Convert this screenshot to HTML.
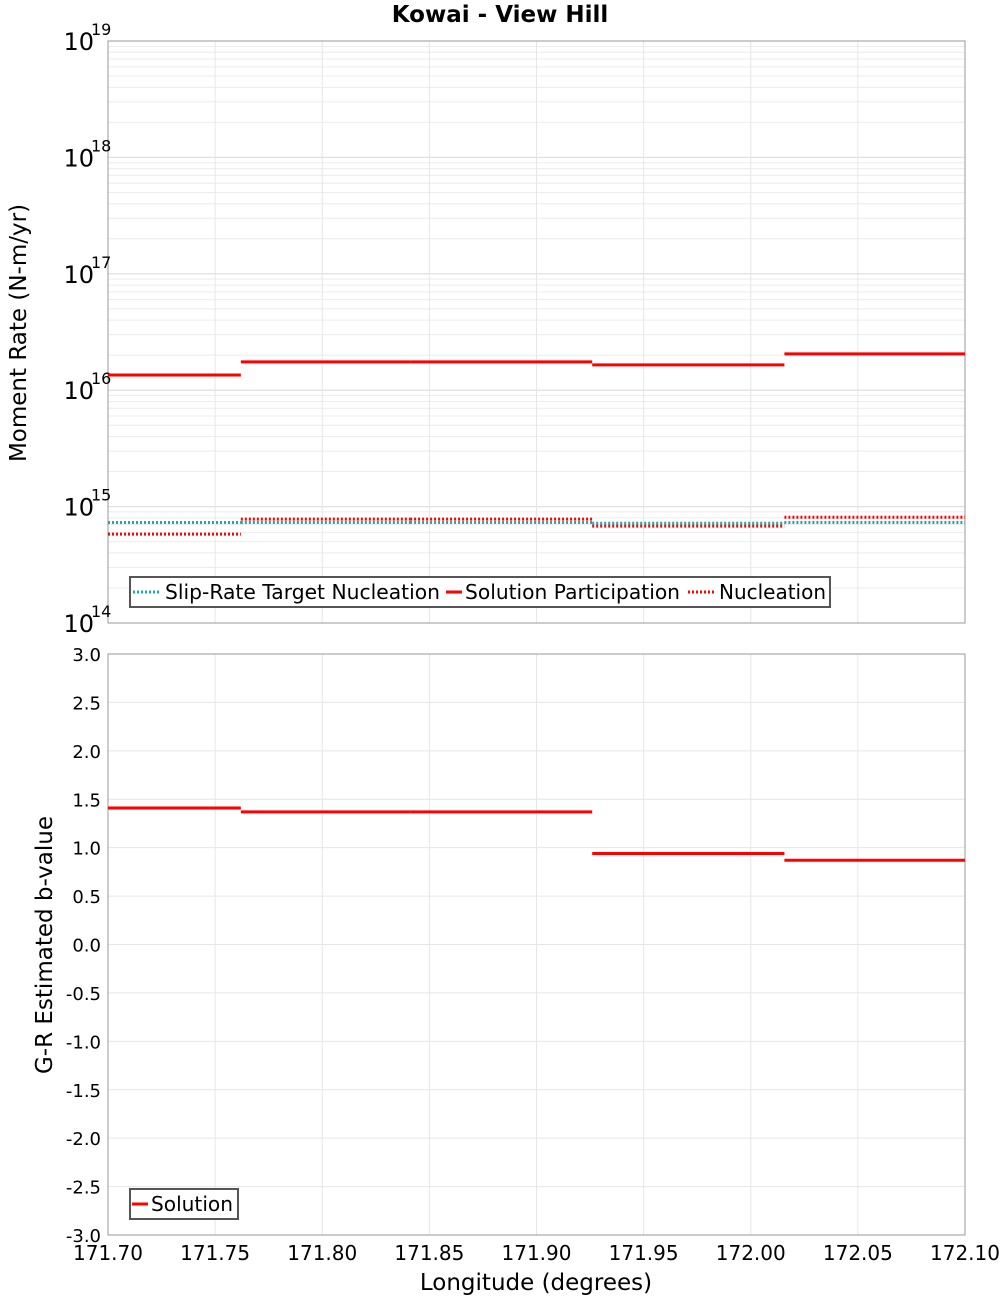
<!DOCTYPE html>
<html><head><meta charset="utf-8"><style>
html,body{margin:0;padding:0;background:#fff;}
svg{display:block;font-family:"DejaVu Sans","Liberation Sans",sans-serif;}
</style></head><body>
<svg id="chart" width="1000" height="1300"></svg>
<script>
const binEdges = [171.70, 171.762, 171.841, 171.926, 172.0157, 172.10];
const participation = [1.35e16, 1.75e16, 1.75e16, 1.65e16, 2.05e16];
const nucleation = [5.8e14, 7.8e14, 7.8e14, 6.8e14, 8.1e14];
const targetNucleation = [7.3e14, 7.3e14, 7.3e14, 7.2e14, 7.3e14];
const bValues = [1.41, 1.37, 1.37, 0.94, 0.87];
const xTicks = [171.70, 171.75, 171.80, 171.85, 171.90, 171.95, 172.00, 172.05, 172.10];
const logTicks = [14, 15, 16, 17, 18, 19];
const bTicks = [-3.0,-2.5,-2.0,-1.5,-1.0,-0.5,0.0,0.5,1.0,1.5,2.0,2.5,3.0];

const NS='http://www.w3.org/2000/svg';
const svg=document.getElementById('chart');
function el(tag,attrs,parent){const e=document.createElementNS(NS,tag);for(const k in attrs)e.setAttribute(k,attrs[k]);(parent||svg).appendChild(e);return e;}
const L=108,R=965,T1=41,B1=623,T2=654,B2=1235;
const xS=v=>L+(v-171.70)/(0.40)*(R-L);
const yLog=v=>T1+(19-Math.log10(v))/5*(B1-T1);
const yB=v=>T2+(3-v)/6*(B2-T2);

const title=el('text',{x:500,y:22,'text-anchor':'middle','font-size':23,'font-weight':'bold'});
title.textContent='Kowai - View Hill';



const g1=el('g',{});


for(let d=14;d<19;d++){for(let m=1;m<=10;m++){const y=yLog(m*Math.pow(10,d));el('line',{x1:L,x2:R,y1:y,y2:y,stroke:m===1||m===10?'#e0e0e0':'#ececec','stroke-width':1},g1);}}
xTicks.forEach(t=>{const x=xS(t);el('line',{x1:x,x2:x,y1:T1,y2:B1,stroke:'#e6e6e6'},g1);el('line',{x1:x,x2:x,y1:T2,y2:B2,stroke:'#e6e6e6'},g1);});
bTicks.forEach(t=>{const y=yB(t);el('line',{x1:L,x2:R,y1:y,y2:y,stroke:'#e6e6e6'},g1);});

const f1=el('rect',{x:L,y:T1,width:R-L,height:B1-T1,fill:'none',stroke:'#999'});


const f2=el('rect',{x:L,y:T2,width:R-L,height:B2-T2,fill:'none',stroke:'#999'});



logTicks.forEach(d=>{const y=yLog(Math.pow(10,d));
 const t=el('text',{x:94,y:y+9,'text-anchor':'end','font-size':24});t.textContent='10';
 
 
 const s=el('text',{x:91,y:y-6,'font-size':16});s.textContent=String(d);
 
 
});
const yt1=el('text',{x:0,y:0,'text-anchor':'middle','font-size':23,transform:'translate(26,333) rotate(-90)'});
yt1.textContent='Moment Rate (N-m/yr)';



bTicks.forEach(v=>{const t=el('text',{x:101,y:yB(v)+7,'text-anchor':'end','font-size':18});t.textContent=v.toFixed(1);
 
 });
const yt2=el('text',{x:0,y:0,'text-anchor':'middle','font-size':23,transform:'translate(52,945) rotate(-90)'});
yt2.textContent='G-R Estimated b-value';



xTicks.forEach(v=>{const t=el('text',{x:xS(v),y:1260,'text-anchor':'middle','font-size':20});t.textContent=v.toFixed(2);
 
 });
const xt=el('text',{x:536,y:1290,'text-anchor':'middle','font-size':23});
xt.textContent='Longitude (degrees)';



function steps(vals,yf,color,dash,name){
 vals.forEach((v,i)=>{const a={x1:xS(binEdges[i]),x2:xS(binEdges[i+1]),y1:yf(v),y2:yf(v),stroke:color,'stroke-width':3};
  if(dash)a['stroke-dasharray']='2,2';
  const ln=el('line',a);
  
  });
}
steps(targetNucleation,yLog,'#1aacac',true,'target-nucleation-segment');
steps(nucleation,yLog,'#ff0000',true,'nucleation-segment');
steps(participation,yLog,'#ff0000',false,'participation-segment');
steps(bValues,yB,'#ff0000',false,'b-value-segment');

const lg=el('g',{});


el('rect',{x:130,y:577,width:700,height:30,fill:'#fff',stroke:'#555','stroke-width':2},lg);
el('line',{x1:133,x2:161,y1:592,y2:592,stroke:'#1aacac','stroke-width':3,'stroke-dasharray':'2,2'},lg);
let t=el('text',{x:165,y:599,'font-size':20,textLength:275,lengthAdjust:'spacingAndGlyphs'},lg);t.textContent='Slip-Rate Target Nucleation';
el('line',{x1:446,x2:462,y1:592,y2:592,stroke:'#ff0000','stroke-width':3},lg);
t=el('text',{x:465,y:599,'font-size':20,textLength:215,lengthAdjust:'spacingAndGlyphs'},lg);t.textContent='Solution Participation';
el('line',{x1:688,x2:716,y1:592,y2:592,stroke:'#ff0000','stroke-width':3,'stroke-dasharray':'2,2'},lg);
t=el('text',{x:719,y:599,'font-size':20,textLength:107,lengthAdjust:'spacingAndGlyphs'},lg);t.textContent='Nucleation';

const lg2=el('g',{});


el('rect',{x:130,y:1189,width:108,height:30,fill:'#fff',stroke:'#555','stroke-width':2},lg2);
el('line',{x1:132,x2:148,y1:1204,y2:1204,stroke:'#ff0000','stroke-width':3},lg2);
t=el('text',{x:151,y:1211,'font-size':20,textLength:82,lengthAdjust:'spacingAndGlyphs'},lg2);t.textContent='Solution';
</script>
</body></html>
